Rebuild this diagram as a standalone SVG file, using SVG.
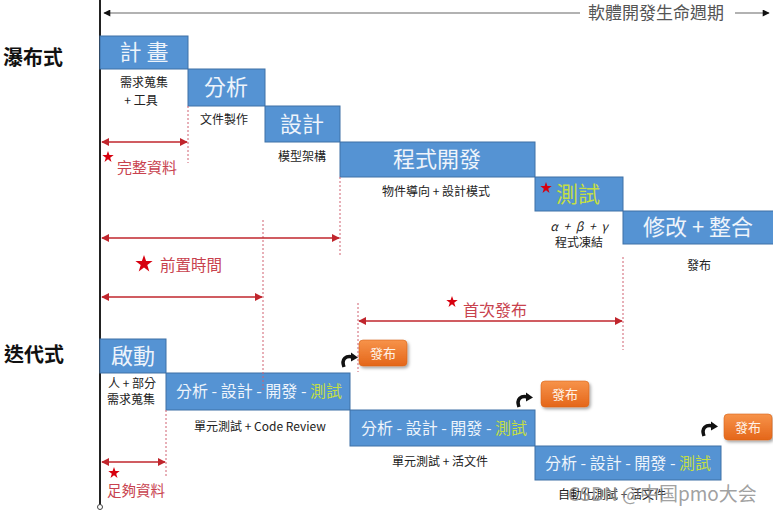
<svg xmlns="http://www.w3.org/2000/svg" width="773" height="514" viewBox="0 0 773 514">
<style>
text{font-family:"Noto Sans CJK TC","Noto Sans CJK SC",sans-serif}
.box{fill:#5593D3;stroke:#3E70A6;stroke-width:1}
.bt{fill:#EEF4FB;font-size:22px;text-anchor:middle}
.it{fill:#EEF4FB;font-size:16px;text-anchor:middle}
.gr{fill:#C3DE45}
.sub{fill:#222;font-size:12px;text-anchor:middle}
.red{fill:#C8424E}
.rl{stroke:#C0262D;stroke-width:1.3;fill:none;marker-start:url(#ra);marker-end:url(#ra)}
.dot{stroke:#D06070;stroke-width:1;stroke-dasharray:2 2;fill:none}
.side{fill:#111;font-size:20px;font-weight:bold}
.btn{fill:url(#og);stroke:#D8651A;stroke-width:0.6;filter:url(#sh)}
.bl{fill:#FFF3E8;font-size:13px;text-anchor:middle}
</style>
<defs>
<marker id="ra" viewBox="0 0 10 10" refX="9" refY="5" markerWidth="8" markerHeight="8" markerUnits="userSpaceOnUse" orient="auto-start-reverse"><path d="M0,0 L10,5 L0,10 z" fill="#C0262D"/></marker>
<marker id="ka" viewBox="0 0 10 10" refX="9" refY="5" markerWidth="8" markerHeight="7" markerUnits="userSpaceOnUse" orient="auto-start-reverse"><path d="M0,0 L10,5 L0,10 z" fill="#111"/></marker>
<linearGradient id="og" x1="0" y1="0" x2="0" y2="1"><stop offset="0" stop-color="#F7934A"/><stop offset="1" stop-color="#E4661A"/></linearGradient>
<filter id="sh" x="-20%" y="-20%" width="150%" height="160%"><feDropShadow dx="1.5" dy="2" stdDeviation="1.5" flood-color="#000" flood-opacity="0.35"/></filter>
<path id="star" d="M0,-6 L1.4,-1.9 L5.7,-1.9 L2.2,0.7 L3.5,4.9 L0,2.3 L-3.5,4.9 L-2.2,0.7 L-5.7,-1.9 L-1.4,-1.9 z" fill="#D7000F"/>
<path id="bigstar" d="M0,-9 L2.1,-2.9 L8.6,-2.9 L3.3,1 L5.3,7.4 L0,3.5 L-5.3,7.4 L-3.3,1 L-8.6,-2.9 L-2.1,-2.9 z" fill="#D7000F"/>
<g id="hook"><path d="M1,11 C-2,3 3,-1 10,1" stroke="#111" stroke-width="3.5" fill="none"/><path d="M8,-3.5 L15,1.5 L8,5.5 z" fill="#111"/></g>
</defs>

<g id="axes">
<line x1="100" y1="0" x2="100" y2="505" stroke="#222" stroke-width="2"/>
<circle cx="100" cy="507" r="2.5" fill="#fff" stroke="#444" stroke-width="1"/>
<line x1="104" y1="13" x2="580" y2="13" stroke="#666" stroke-width="1.2" marker-start="url(#ka)"/>
<line x1="735" y1="13" x2="769" y2="13" stroke="#666" stroke-width="1.2" marker-end="url(#ka)"/>
<text x="656" y="19" font-size="17" fill="#555" text-anchor="middle">軟體開發生命週期</text>
</g>

<text class="side" x="3" y="65">瀑布式</text>
<text class="side" x="4" y="362">迭代式</text>

<g id="plan"><rect class="box" x="100" y="36" width="88" height="33"/><text class="bt" x="144" y="60" xml:space="preserve">計 畫</text>
<text class="sub" x="144" y="87">需求蒐集</text><text class="sub" x="141" y="105">+ 工具</text></g>
<g id="analysis"><rect class="box" x="188" y="69" width="77" height="37"/><text class="bt" x="226" y="95">分析</text>
<text class="sub" x="224" y="124">文件製作</text></g>
<g id="design"><rect class="box" x="265" y="106" width="75" height="36"/><text class="bt" x="302" y="132">設計</text>
<text class="sub" x="302" y="161">模型架構</text></g>
<g id="develop"><rect class="box" x="340" y="142" width="195" height="35"/><text class="bt" x="437" y="167">程式開發</text>
<text class="sub" x="436" y="196">物件導向 + 設計模式</text></g>
<g id="test"><rect class="box" x="535" y="177" width="88" height="34"/><use href="#star" x="546" y="188"/><text class="bt gr" x="578" y="202">測試</text>
<text class="sub" x="579" y="231" font-style="italic" font-family="Liberation Serif,serif" word-spacing="3">α + β + γ</text><text class="sub" x="579" y="247">程式凍結</text></g>
<g id="fix"><rect class="box" x="623" y="211" width="155" height="33"/><text class="bt" x="698" y="235">修改 + 整合</text>
<text class="sub" x="699" y="270">發布</text></g>

<g id="kickoff"><rect class="box" x="100" y="339" width="66" height="34"/><text class="bt" x="133" y="364">啟動</text>
<text class="sub" x="132" y="388">人 + 部分</text><text class="sub" x="131" y="404">需求蒐集</text></g>
<g id="iter1"><rect class="box" x="166" y="373" width="184" height="37"/><text class="it" x="259" y="397">分析 - 設計 - 開發 - <tspan class="gr">測試</tspan></text>
<text class="sub" x="260" y="431">單元測試 + Code Review</text></g>
<g id="iter2"><rect class="box" x="350" y="410" width="185" height="36"/><text class="it" x="444" y="434">分析 - 設計 - 開發 - <tspan class="gr">測試</tspan></text>
<text class="sub" x="440" y="466">單元測試 + 活文件</text></g>
<g id="iter3"><rect class="box" x="535" y="446" width="186" height="34"/><text class="it" x="628" y="469">分析 - 設計 - 開發 - <tspan class="gr">測試</tspan></text>
<text class="sub" x="612" y="499">自動化測試 + 活文件</text></g>

<g id="release1"><rect class="btn" x="359" y="340" width="48" height="26" rx="4"/><text class="bl" x="383" y="358">發布</text></g>
<g id="release2"><rect class="btn" x="541" y="381" width="48" height="26" rx="4"/><text class="bl" x="565" y="399">發布</text></g>
<g id="release3"><rect class="btn" x="724" y="414" width="48" height="26" rx="4"/><text class="bl" x="748" y="432">發布</text></g>

<g id="connectors">
<line class="dot" x1="188" y1="106" x2="188" y2="163"/>
<line class="dot" x1="263" y1="220" x2="263" y2="390"/>
<line class="dot" x1="340" y1="177" x2="340" y2="255"/>
<line class="dot" x1="623" y1="257" x2="623" y2="350"/>
<line class="dot" x1="358" y1="303" x2="358" y2="372"/>
<line class="dot" x1="166" y1="410" x2="166" y2="478"/>
<line class="rl" x1="102" y1="142" x2="187" y2="142"/>
<line class="rl" x1="102" y1="238" x2="339" y2="238"/>
<line class="rl" x1="102" y1="297" x2="262" y2="297"/>
<line class="rl" x1="359" y1="321" x2="622" y2="321"/>
<line class="rl" x1="102" y1="462" x2="165" y2="462"/>
<use href="#hook" x="343" y="356"/>
<use href="#hook" x="518" y="396"/>
<use href="#hook" x="703" y="425"/>
</g>

<g id="labels">
<use href="#star" x="108" y="157"/>
<text class="red" x="117" y="173" font-size="15">完整資料</text>
<use href="#bigstar" x="144" y="264"/>
<text class="red" x="160" y="271" font-size="15.5">前置時間</text>
<use href="#star" x="452" y="302"/>
<text class="red" x="463" y="316" font-size="16">首次發布</text>
<use href="#star" x="114" y="473"/>
<text class="red" x="107" y="496" font-size="14.5">足夠資料</text>
</g>
<text x="568" y="501" font-size="19" fill="#888" fill-opacity="0.8" font-family="Noto Sans CJK SC,sans-serif">CSDN @中国pmo大会</text>
</svg>
